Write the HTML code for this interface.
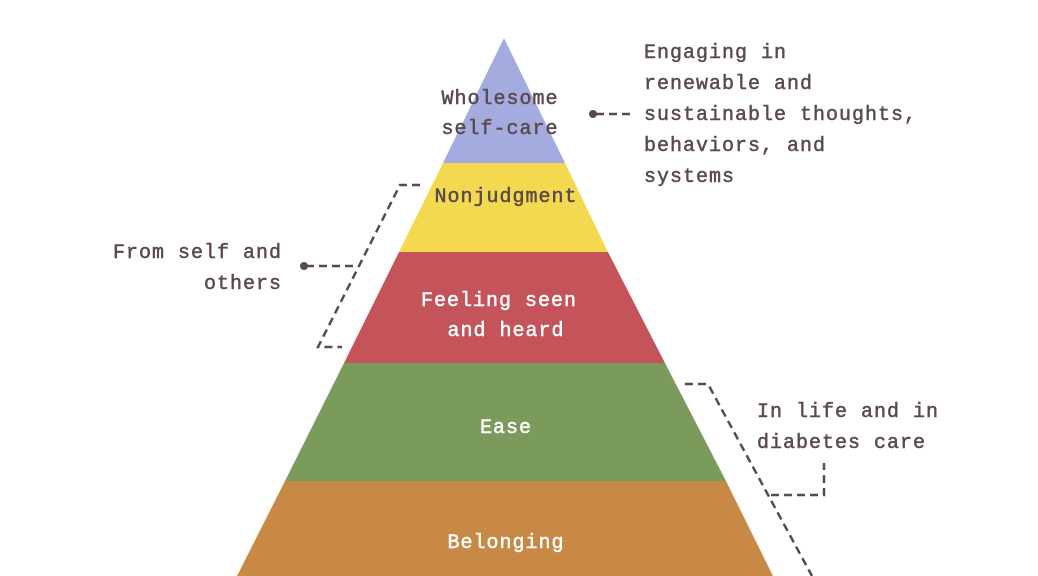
<!DOCTYPE html>
<html><head><meta charset="utf-8"><style>
html,body{margin:0;padding:0;background:#fff;}
svg{display:block;}
text{font-family:"Liberation Mono",monospace;font-size:20px;letter-spacing:1px;stroke-width:0.5px;}
</style></head><body>
<svg width="1038" height="576" viewBox="0 0 1038 576">
<polygon points="504,38 565,163 443,163" fill="#a3abdf"/>
<polygon points="443,163 565,163 608,252 399,252" fill="#f2d94f"/>
<polygon points="399,252 608,252 665,363 344,363" fill="#c4545a"/>
<polygon points="344,363 665,363 726,481 285,481" fill="#7a9b5b"/>
<polygon points="285,481 726,481 773,576 237,576" fill="#c98946"/>
<g fill="#5b4a4c" stroke="#5b4a4c" text-anchor="middle">
<text x="500" y="104">Wholesome</text>
<text x="500" y="134">self-care</text>
<text x="506" y="202">Nonjudgment</text>
</g>
<g fill="#fff" stroke="#fff" text-anchor="middle">
<text x="499" y="306">Feeling seen</text>
<text x="506" y="336">and heard</text>
<text x="506" y="433">Ease</text>
<text x="506" y="548">Belonging</text>
</g>
<g fill="#5b4a4c" stroke="#5b4a4c">
<text x="644" y="58">Engaging in</text>
<text x="644" y="89">renewable and</text>
<text x="644" y="120">sustainable thoughts,</text>
<text x="644" y="151">behaviors, and</text>
<text x="644" y="182">systems</text>
<text x="282" y="258" text-anchor="end">From self and</text>
<text x="282" y="289" text-anchor="end">others</text>
<text x="757" y="417">In life and in</text>
<text x="757" y="448">diabetes care</text>
</g>
<g stroke="#5b4a4c" stroke-width="2.5" fill="none" stroke-dasharray="8,5">
<line x1="596" y1="114" x2="632" y2="114"/>
<polyline points="420,185 400,185 318,347 342,347"/>
<line x1="306" y1="266" x2="357" y2="266"/>
<polyline points="685,384 708,384 812,576"/>
<polyline points="771,495 824,495 824,463"/>
</g>
<g fill="#5b4a4c">
<circle cx="593" cy="114" r="4"/>
<circle cx="304" cy="266" r="4"/>
</g>
</svg>
</body></html>
